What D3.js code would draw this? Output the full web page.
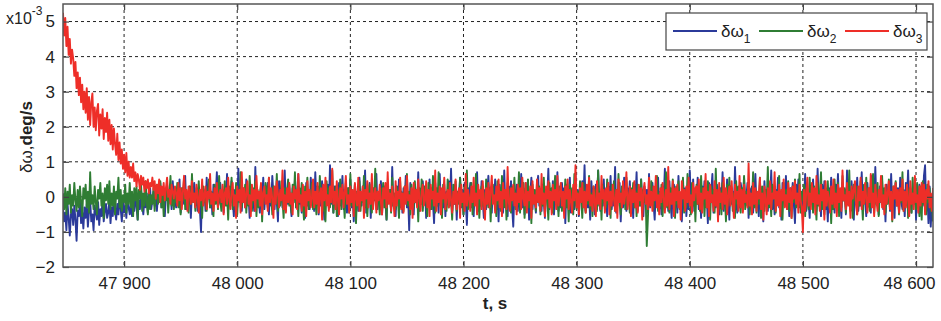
<!DOCTYPE html>
<html>
<head>
<meta charset="utf-8">
<script src="https://cdn.jsdelivr.net/npm/d3@7"></script>
<style>
  body { margin: 0; background: #fff; }
  svg { display: block; font-family: "Liberation Sans", Arial, sans-serif; }
</style>
</head>
<body>
<div id="chart"></div>
<script>
// one sample per second from t0; values in hundredths of 1e-3 deg/s
const t0 = 47846;
const dt = 1;

const omega1 = [
  -30,-70,-45,-95,-20,-60,-110,-50,-35,-80,-25,-65,-125,-40,-55,-15,-75,-45,-90,-30,
  -60,-20,-85,-40,-10,-70,-50,-95,-25,-45,-65,-15,-80,-35,-55,-5,-70,-40,-20,-60,
  -45,-10,-75,-30,-55,0,-40,-65,-20,-50,10,-35,-70,-15,-45,-25,-60,5,-30,-50,
  -20,-55,-5,-40,15,-30,-65,-10,-35,20,-25,-50,-5,-30,10,-45,-15,25,-35,-10,
  15,-25,30,-40,5,-15,40,-30,-5,20,-55,10,35,-20,-5,25,-35,45,-10,5,
  -30,20,-10,50,-45,0,25,-20,60,-35,10,-15,30,-60,15,-5,40,-25,5,-40,
  20,-35,-100,30,-15,10,-40,55,-5,25,-30,15,-50,35,-10,5,70,-25,-15,40,
  -20,10,-45,30,-5,65,-35,15,-25,45,-10,-55,20,5,-30,80,-15,35,-40,10,
  25,-30,50,-15,5,-60,35,-20,10,-40,85,-25,15,-5,-45,30,-10,55,-35,20,
  -10,40,-50,15,-25,60,5,-35,25,-15,-70,45,-5,20,-30,10,75,-40,15,-20,
  35,-15,-55,25,-5,45,-30,10,65,-20,5,-45,30,-10,-60,40,-25,15,-35,55,
  -5,20,-40,70,-15,30,-50,10,-25,45,-5,-65,25,-10,35,-30,90,-20,5,-45,
  30,-10,15,-55,40,-25,5,60,-35,20,-15,-45,25,-5,50,-30,10,-70,35,-20,
  15,-40,55,-10,-25,30,-5,75,-45,20,-15,40,-60,10,-30,25,-5,65,-35,15,
  -20,45,-50,10,30,-15,-65,35,-5,20,-40,85,-25,5,-55,30,-10,50,-30,15,
  -45,25,-10,60,-30,5,-95,40,-15,20,-50,35,-5,-25,70,-40,10,-20,45,-10,
  30,-60,15,-5,50,-35,25,-15,-75,40,-10,20,-45,65,-25,5,-30,35,-55,15,
  -10,45,-25,80,-40,10,-20,35,-65,15,-5,55,-30,20,-50,40,-15,-80,25,5,
  40,-30,10,-55,30,-15,70,-40,5,-25,45,-10,-60,20,-35,15,60,-20,-5,-45,
  25,-15,50,-35,10,-70,35,-5,20,-45,75,-25,10,-55,30,-10,45,-30,-85,20,
  -5,35,-40,15,-20,65,-30,10,-50,40,-15,25,-65,5,55,-35,20,-10,-45,30,
  60,-25,5,-40,35,-15,-60,20,-5,80,-35,15,-25,45,-50,10,-20,70,-40,5,
  -30,40,-10,25,-75,35,-20,10,55,-45,15,-5,-35,65,-25,20,-55,30,-10,45,
  -15,90,-40,20,-30,10,-65,45,-5,25,-50,35,-20,75,-10,-40,15,-25,50,-35,
  10,-55,30,-15,60,-35,5,-25,85,-45,20,-10,40,-70,15,-30,55,-5,-40,25,
  -20,45,-30,10,-60,35,-5,70,-40,15,-25,50,-10,-55,30,-15,20,-45,65,-30,
  5,40,-20,-65,25,-10,55,-35,15,-50,30,-5,80,-25,10,-40,45,-15,-60,20,
  35,-30,10,-45,60,-20,5,-70,40,-10,25,-55,15,-35,75,-5,-25,50,-40,10,
  -15,55,-35,20,-60,30,-10,45,-25,5,-75,40,-20,15,65,-45,10,-30,35,-5,
  -50,25,-15,70,-40,10,-25,50,-5,-65,30,-20,15,-35,85,-10,-45,20,-30,40,
  15,-35,55,-20,-5,40,-60,25,-15,30,-45,10,65,-30,5,-55,35,-10,20,-70,
  45,-25,10,-40,30,-15,75,-35,5,-50,20,-10,55,-30,15,-65,40,-5,-20,60,
  -35,15,-55,25,-10,40,-20,-75,35,-5,50,-30,10,-45,20,-15,65,-40,25,-10,
  -60,30,-5,50,-25,15,-40,80,-20,10,-55,35,-15,45,-35,5,-70,25,-10,55,
  -25,10,-45,35,-15,65,-30,5,-60,40,-10,20,-50,75,-20,15,-35,45,-5,-65,
  30,-20,55,-40,10,-25,70,-35,15,-5,-55,40,-15,25,-45,60,-10,-30,85,-20,
  5,-50,30,-15,45,-35,10,-70,35,-5,20,-40,65,-25,15,-60,40,-10,25,-45,
  55,-15,-35,20,-55,40,-5,75,-30,10,-45,25,-20,50,-65,15,-10,35,-40,20,
  -25,60,90,-40,15,-75,30,-85,-20,-60
];

const omega2 = [
  10,-35,25,-50,15,-20,35,-45,5,-25,40,-10,-40,20,-30,30,-15,-55,25,-5,
  35,-30,15,-45,70,-20,5,-35,30,-15,-50,20,-5,40,-25,10,-60,25,-10,35,
  -20,45,-35,10,-25,30,-50,15,-5,55,-30,20,-40,5,-15,35,-45,10,-20,40,
  -30,15,-55,25,-10,30,-65,20,-5,35,-40,10,-25,45,-15,-50,20,-35,5,-20,
  25,-40,10,35,-20,-5,45,-30,15,-55,20,-10,30,-45,5,60,-25,10,-35,15,
  -15,40,-30,5,-50,25,-10,55,-35,20,-5,-45,30,-20,65,-15,10,-40,25,-5,
  45,-25,10,-60,30,-15,20,-40,5,50,-30,15,-10,-55,35,-20,5,-35,60,-10,
  -40,20,-5,45,-25,10,-65,30,-15,55,-35,5,-20,40,-50,15,-10,70,-30,20,
  -15,35,-45,10,-25,60,-5,-40,25,-15,45,-55,20,-30,5,35,-70,15,-10,40,
  20,-30,55,-15,5,-50,30,-20,-5,65,-40,10,-25,45,-10,-60,25,-35,15,50,
  -25,10,-45,35,-15,70,-30,5,-55,25,-10,40,-20,-65,30,-5,55,-35,15,-20,
  40,-35,15,-10,-50,30,-25,60,-5,20,-40,10,-70,45,-15,25,-30,5,75,-45,
  -10,30,-55,20,-20,50,-35,10,-5,-60,40,-15,25,-45,65,-25,5,-30,35,-75,
  15,-25,45,-40,10,-15,60,-30,20,-55,5,35,-20,-45,25,-10,80,-35,15,-5,
  -50,25,-15,40,-30,5,-65,35,-10,20,-45,55,-25,10,-35,30,-5,-60,45,-20,
  10,-40,30,-10,65,-25,15,-50,35,-5,-30,45,-15,20,-70,25,-20,50,-40,5,
  30,-15,-55,40,-20,10,-35,60,-5,-45,25,-25,70,-10,15,-60,35,-15,5,-40,
  50,-30,20,-10,-65,35,-5,45,-40,15,-20,55,-25,10,-50,30,-15,75,-35,5,
  -20,40,-50,15,-10,65,-35,20,-60,5,30,-25,10,-45,50,-5,-30,25,-70,15,
  35,-15,5,-55,45,-20,25,-40,60,-10,-30,15,-65,40,-5,20,-45,30,-10,55,
  -35,10,-20,70,-45,15,-5,40,-60,25,-15,50,-30,5,-75,35,-10,20,-40,45,
  -15,30,-50,10,-25,55,-35,20,-5,-65,40,-10,25,-45,15,60,-20,5,-55,30,
  20,-40,10,-20,50,-30,5,-70,35,-15,25,-50,65,-10,-35,15,-25,45,-5,-60,
  40,-10,-45,25,-20,60,-35,10,-55,30,-5,20,-40,75,-25,15,-65,35,-15,5,
  -30,50,-20,15,-60,35,-10,45,-40,5,-25,65,-15,-50,30,-5,20,-35,55,-20,
  10,-45,25,-5,40,-30,15,-55,35,-10,-25,50,-40,20,-15,5,-140,-60,25,-20,
  45,-15,-35,20,-5,60,-40,10,-25,35,-55,15,-10,70,-30,5,-45,25,-20,50,
  -10,-60,30,-20,45,-35,10,-5,55,-45,20,-30,65,-15,5,-50,40,-25,15,-70,
  35,-20,10,-40,60,-10,25,-55,15,-30,45,-5,-65,30,-15,20,-45,80,-25,10,
  -35,15,-50,40,-15,5,-70,35,-25,55,-10,20,-40,10,-60,45,-20,30,-5,-45,
  25,-10,60,-35,15,-25,40,-50,5,-15,70,-30,20,-45,10,-20,55,-60,30,-5,
  -40,20,-15,85,-30,10,-55,35,-5,25,-45,15,-20,60,-35,5,-65,40,-10,20,
  -25,45,-40,10,-60,30,-15,50,-30,5,-20,65,-45,15,-10,35,-55,25,-5,-35,
  55,-20,15,-45,30,-10,-65,40,-25,10,70,-35,5,-50,25,-15,45,-30,20,-75,
  15,-35,50,-15,-5,40,-55,20,-30,60,-10,25,-45,5,-20,75,-40,15,-60,35,
  -10,30,-50,20,-25,45,-5,-65,35,-15,55,-30,10,-40,25,-20,65,-45,5,-15,
  40,-55,15,-10,60,-30,25,-45,5,-20,50,-35,10,-70,30,-5,45,-25,15,-50,
  20,-15,70,-40,10,-25,35,-60,25,-5,-45,55,-20,15,-35,40,-10,-55,30,-65,
  45,-20,10,-50,35,-15,25,-40,-10,-70
];

const omega3 = [
  525,460,510,430,485,405,450,380,420,395,345,385,310,355,290,340,270,320,250,300,
  240,310,220,285,205,270,295,200,255,190,245,265,175,235,195,250,165,225,185,240,
  160,220,150,205,135,195,150,120,180,105,155,95,135,80,120,70,125,60,100,55,
  85,55,95,45,70,30,65,50,20,60,35,55,15,45,25,50,10,40,30,55,
  20,45,-5,35,10,50,-15,30,5,40,-10,25,55,0,20,-20,35,15,-5,30,
  10,-25,40,-10,25,-35,15,60,-5,20,-40,30,5,-20,45,-15,10,-30,35,0,
  -45,20,-10,50,-25,5,30,-35,15,-5,65,-20,10,-40,25,-10,40,-30,5,20,
  -15,35,-50,10,25,-20,55,-5,-35,15,40,-25,5,-60,30,-10,20,-45,70,-15,
  25,-30,10,45,-20,5,-55,35,-10,20,-40,60,-5,15,-25,40,-50,10,30,-20,
  5,-40,55,-15,25,-5,-60,30,-20,45,10,-30,20,-10,75,-35,5,-45,25,-15,
  40,-20,10,-50,30,-5,20,-35,65,-15,5,-40,35,-25,15,-55,45,-10,20,-30,
  -5,50,-30,15,-20,40,-45,10,25,-65,35,-10,55,-25,5,-40,30,-15,80,-20,
  15,-35,45,-10,-50,25,-5,35,-30,10,60,-20,5,-45,30,-15,20,-55,40,-5,
  -25,55,-40,15,-10,30,-60,20,-5,45,-30,10,-20,65,-35,5,25,-45,15,-10,
  35,-15,-50,25,-5,40,-30,70,-20,10,-40,30,-10,-55,45,-25,15,-5,55,-35,
  10,-45,30,-20,60,-10,5,-35,25,-60,40,-15,20,-30,50,-5,-40,15,35,-25,
  -10,45,-30,20,-55,35,-5,15,-25,75,-40,10,-15,30,-50,25,-5,55,-35,5,
  20,-30,40,-10,-45,15,-20,50,-35,5,25,-60,35,-15,10,-40,65,-25,20,-5,
  -40,30,-15,55,-25,10,-50,35,-5,20,-35,45,-10,-65,25,-20,40,-30,15,60,
  -20,5,-45,30,-10,50,-30,15,-55,40,-5,20,-35,85,-15,-40,25,-10,35,-25,
  10,-50,35,-15,25,-35,55,-5,-25,40,-45,15,-10,30,-60,45,-20,5,-30,50,
  -15,25,-40,65,-20,10,-55,30,-5,45,-30,15,-50,35,-10,20,-35,60,-25,5,
  40,-25,15,-60,30,-5,50,-35,20,-15,-45,35,-10,90,-30,10,-50,25,-15,40,
  -30,15,-45,35,-10,55,-25,5,-40,30,-15,-55,45,-20,10,-35,60,-5,20,-45,
  25,-10,40,-50,15,-25,35,-5,-40,20,-60,50,-15,10,-30,45,-20,5,70,-35,
  -5,30,-55,20,-15,45,-30,10,-45,35,-10,25,-65,15,40,-20,5,-35,55,-25,
  15,-40,30,-10,60,-30,5,-50,25,-15,40,-5,-45,20,-25,85,-35,10,-20,45,
  -55,25,-10,35,-30,15,-65,45,-5,20,-40,30,-15,55,-25,5,-45,40,-10,25,
  30,-20,50,-35,10,-45,25,-5,65,-30,15,-55,35,-15,5,-40,45,-25,20,-70,
  40,-15,10,-35,55,-20,25,-50,5,30,-25,45,-10,-60,35,-5,15,-40,60,-30,
  20,-45,35,-15,5,-30,95,-25,10,-50,40,-20,25,-40,15,-5,55,-35,10,-65,
  30,-10,-50,25,-20,45,-35,10,-5,70,-40,15,-25,35,-55,20,-10,50,-30,5,
  -35,40,-15,25,-60,30,-5,45,-20,10,-45,35,-10,-30,-100,20,-40,15,55,-25,
  10,-35,40,-15,25,-50,60,-20,5,-40,35,-10,20,-65,45,-25,15,-5,-45,30,
  -20,50,-30,10,-55,35,-15,25,-40,75,-10,5,-35,40,-25,15,-60,30,-5,20,
  45,-25,-50,30,-10,55,-35,15,-20,40,-5,-45,25,-15,65,-30,10,-55,35,-10,
  -40,20,-15,60,-30,5,-50,35,-20,10,45,-35,15,-65,30,-5,40,-25,20,-45,
  25,-10,50,-40,15,-30,35,-5,-55,45,-20,10,-35,60,-15,5,-45,30,-25,40,
  -15,35,-50,20,-5,45,-30,10,-40,25
];

const xTicks = [47900, 48000, 48100, 48200, 48300, 48400, 48500, 48600];
const yTicks = [-2, -1, 0, 1, 2, 3, 4, 5];

const series = [
  { name: "1", values: omega1, color: "#2b3a9a" },
  { name: "2", values: omega2, color: "#2f7d34" },
  { name: "3", values: omega3, color: "#ee2e28" }
];

const width = 941, height = 321;
const margin = { top: 4, right: 8, bottom: 54, left: 63 };

const svg = d3.select("#chart").append("svg")
    .attr("width", width)
    .attr("height", height);

const x = d3.scaleLinear().domain([47846, 48615])
    .range([margin.left, width - margin.right]);
const y = d3.scaleLinear().domain([-2, 5.5])
    .range([height - margin.bottom, margin.top]);

svg.append("clipPath").attr("id", "clip")
  .append("rect")
    .attr("x", margin.left).attr("y", margin.top)
    .attr("width", x.range()[1] - margin.left)
    .attr("height", y.range()[0] - margin.top);

// grid
const grid = svg.append("g").attr("stroke", "#222").attr("stroke-dasharray", "3,3").attr("stroke-width", 1);
grid.selectAll("line.gx").data(xTicks).join("line")
    .attr("x1", d => x(d)).attr("x2", d => x(d))
    .attr("y1", y.range()[1]).attr("y2", y.range()[0]);
grid.selectAll("line.gy").data(yTicks.slice(1)).join("line")
    .attr("x1", x.range()[0]).attr("x2", x.range()[1])
    .attr("y1", d => y(d)).attr("y2", d => y(d));

// lines
const line = d3.line()
    .x((d, i) => x(t0 + i * dt))
    .y(d => y(d / 100));

svg.append("g").attr("clip-path", "url(#clip)")
  .selectAll("path").data(series).join("path")
    .attr("fill", "none")
    .attr("stroke", d => d.color)
    .attr("stroke-width", 1.9)
    .attr("stroke-linejoin", "round")
    .attr("d", d => line(d.values));

// axes
const xAxis = g => g
    .attr("transform", `translate(0,${y.range()[0]})`)
    .call(d3.axisBottom(x).tickValues(xTicks).tickSizeInner(-6).tickSizeOuter(0).tickPadding(10)
        .tickFormat(d => d3.format(",")(d).replace(",", " ")));

const yAxis = g => g
    .attr("transform", `translate(${margin.left},0)`)
    .call(d3.axisLeft(y).tickValues(yTicks).tickSizeInner(-6).tickSizeOuter(0).tickPadding(8));

svg.append("g").call(xAxis)
    .call(g => g.select(".tick:last-of-type text").attr("text-anchor", "end").attr("x", 19));
svg.append("g").call(yAxis);

// top and right ticks
svg.append("g").attr("transform", `translate(0,${margin.top})`)
    .call(d3.axisTop(x).tickValues(xTicks).tickSizeInner(-6).tickSizeOuter(0).tickFormat(""));
svg.append("g").attr("transform", `translate(${x.range()[1]},0)`)
    .call(d3.axisRight(y).tickValues(yTicks).tickSizeInner(-6).tickSizeOuter(0).tickFormat(""));

svg.selectAll(".domain").remove();
svg.selectAll(".tick line").attr("stroke", "#444").attr("stroke-width", 1.2);
svg.selectAll(".tick text").attr("font-size", 17).attr("fill", "#222")
    .attr("font-family", "'Liberation Sans', Arial, sans-serif");

// frame
svg.append("rect")
    .attr("x", x.range()[0]).attr("y", margin.top)
    .attr("width", x.range()[1] - x.range()[0])
    .attr("height", y.range()[0] - margin.top)
    .attr("fill", "none").attr("stroke", "#555").attr("stroke-width", 1.5);

// multiplier
const mult = svg.append("text").attr("x", 6).attr("y", 24).attr("font-size", 16).attr("fill", "#222");
mult.append("tspan").text("x10");
mult.append("tspan").attr("dy", -9).attr("font-size", 12).text("-3");

// axis titles
svg.append("text")
    .attr("x", 495).attr("y", 309)
    .attr("text-anchor", "middle")
    .attr("font-size", 17).attr("font-weight", "bold").attr("fill", "#222")
    .text("t, s");

const yl = svg.append("text")
    .attr("transform", "translate(32,137) rotate(-90)")
    .attr("text-anchor", "middle")
    .attr("font-size", 17).attr("fill", "#222");
yl.append("tspan").text("δω,");
yl.append("tspan").attr("font-weight", "bold").text("deg/s");

// legend
const lg = svg.append("g").attr("transform", "translate(666,13)");
lg.append("rect").attr("width", 261).attr("height", 37)
    .attr("fill", "#fff").attr("stroke", "#444").attr("stroke-width", 1.2);
const item = lg.selectAll("g").data(series).join("g")
    .attr("transform", (d, i) => `translate(${7 + i * 86},18)`);
item.append("line").attr("x1", 0).attr("x2", 44)
    .attr("stroke", d => d.color).attr("stroke-width", 2);
const lt = item.append("text").attr("x", 48).attr("y", 6)
    .attr("font-size", 17).attr("fill", "#222");
lt.append("tspan").text("δω");
lt.append("tspan").attr("dy", 6).attr("font-size", 12).text(d => d.name);
</script>
</body>
</html>
